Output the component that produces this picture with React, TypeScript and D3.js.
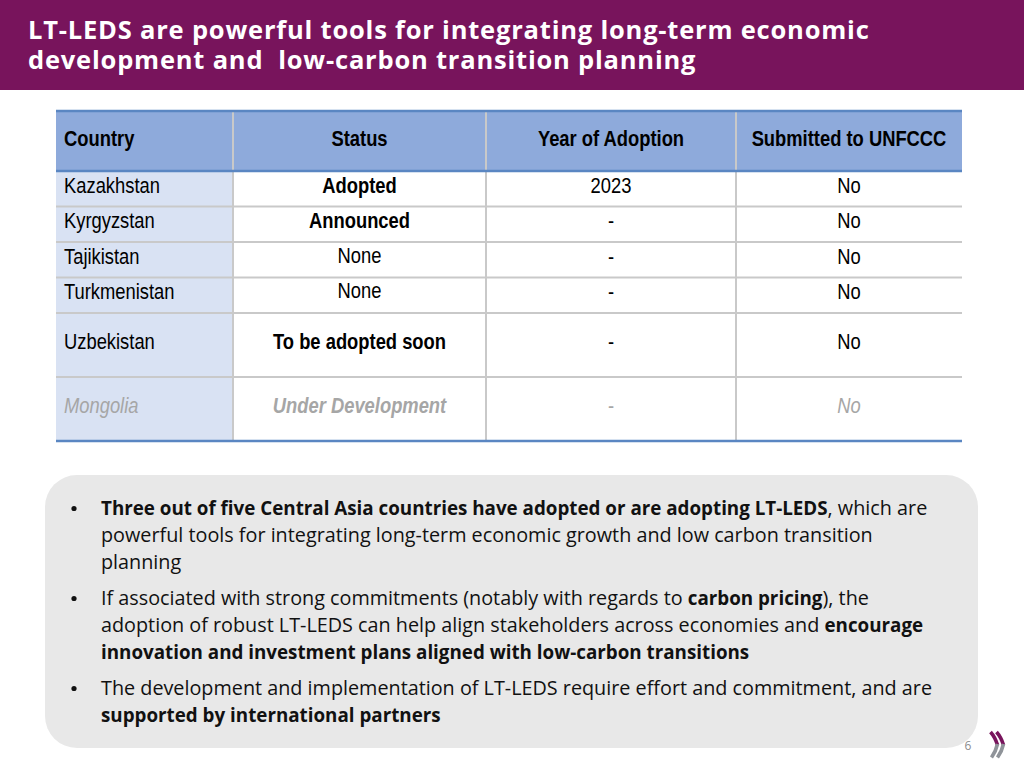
import React from "react";
import * as d3 from "d3";

// ---------- data ----------
const titleLines = [
  "LT-LEDS are powerful tools for integrating long-term economic",
  "development and  low-carbon transition planning",
];
const headers = ["Country", "Status", "Year of Adoption", "Submitted to UNFCCC"];
const countries = ["Kazakhstan", "Kyrgyzstan", "Tajikistan", "Turkmenistan", "Uzbekistan", "Mongolia"];
const statuses = ["Adopted", "Announced", "None", "None", "To be adopted soon", "Under Development"];
const statusBold = [true, true, false, false, true, true];
const years = ["2023", "-", "-", "-", "-", "-"];
const submitted = ["No", "No", "No", "No", "No", "No"];
const greyedRow = [false, false, false, false, false, true];
const rowSpan = [1, 1, 1, 1, 1.8, 1.8];

type Seg = { t: string; b?: boolean };
const bulletLines: Seg[][][] = [
  [
    [{ t: "Three out of five Central Asia countries have adopted or are adopting LT-LEDS", b: true }, { t: ", which are" }],
    [{ t: "powerful tools for integrating long-term economic growth and low carbon transition" }],
    [{ t: "planning" }],
  ],
  [
    [{ t: "If associated with strong commitments (notably with regards to " }, { t: "carbon pricing", b: true }, { t: "), the" }],
    [{ t: "adoption of robust LT-LEDS can help align stakeholders across economies and " }, { t: "encourage", b: true }],
    [{ t: "innovation and investment plans aligned with low-carbon transitions", b: true }],
  ],
  [
    [{ t: "The development and implementation of LT-LEDS require effort and commitment, and are" }],
    [{ t: "supported by international partners", b: true }],
  ],
];
const pageNumber = "6";

// ---------- layout ----------
const W = 1024;
const H = 768;
const colEdges = [56, 233, 486, 736, 962];
const headerTop = 111;
const headerBottom = 171;
const tableBottom = 441;

const cum = [0, ...d3.cumsum(rowSpan)];
const yRow = d3.scaleLinear().domain([0, d3.sum(rowSpan)]).range([headerBottom, tableBottom]);

const tableFont = "'Liberation Sans', Arial, sans-serif";
const bodyFont = "'Open Sans', sans-serif";
const NARROW = 0.835;

function NText(props: {
  x: number;
  y: number;
  anchor?: "start" | "middle";
  bold?: boolean;
  italic?: boolean;
  fill?: string;
  size?: number;
  children: React.ReactNode;
}) {
  const { x, y, anchor = "start", bold, italic, fill = "#000", size = 22, children } = props;
  return (
    <text
      transform={`translate(${x},${y}) scale(${NARROW},1)`}
      textAnchor={anchor}
      fontFamily={tableFont}
      fontWeight={bold ? 700 : 400}
      fontStyle={italic ? "italic" : "normal"}
      fontSize={size}
      fill={fill}
    >
      {children}
    </text>
  );
}

export default function App() {
  const colCenter = (i: number) => (colEdges[i] + colEdges[i + 1]) / 2;
  const grey = "#a6a6a6";

  let bulletY = 515;
  const lineH = 27;
  const paraGap = 9;

  const chevX = [0, 6];

  return (
    <svg
      width={W}
      height={H}
      viewBox={`0 0 ${W} ${H}`}
      style={{ position: "absolute", left: 0, top: 0, display: "block", background: "#fff" }}
    >
      {/* Title bar */}
      <rect x={0} y={0} width={W} height={90} fill="#78145c" />
      <text
        x={28}
        y={38.5}
        fill="#fff"
        fontFamily={bodyFont}
        fontWeight={700}
        fontSize={25.5}
        letterSpacing={0.8}
        style={{ fontVariantLigatures: "none", whiteSpace: "pre" }}
      >
        {titleLines.map((t, i) => (
          <tspan key={i} x={28} dy={i === 0 ? 0 : 30}>
            {t}
          </tspan>
        ))}
      </text>

      {/* Table backgrounds */}
      <rect x={colEdges[0]} y={headerTop} width={colEdges[4] - colEdges[0]} height={headerBottom - headerTop} fill="#8eaadb" />
      <rect x={colEdges[0]} y={headerBottom} width={colEdges[1] - colEdges[0]} height={tableBottom - headerBottom} fill="#d9e2f3" />

      {/* horizontal grid lines between rows */}
      {cum.slice(1, -1).map((c, i) => (
        <line key={"h" + i} x1={colEdges[0]} x2={colEdges[4]} y1={yRow(c)} y2={yRow(c)} stroke="#c9c9c9" strokeWidth={2} />
      ))}
      {/* vertical grid lines */}
      {colEdges.slice(1, -1).map((x, i) => (
        <line key={"v" + i} x1={x} x2={x} y1={headerTop} y2={tableBottom} stroke="#c9c9c9" strokeWidth={2} />
      ))}
      {/* blue rules */}
      {[headerTop, headerBottom, tableBottom].map((y, i) => (
        <line key={"b" + i} x1={colEdges[0]} x2={colEdges[4]} y1={y} y2={y} stroke="#5a86c2" strokeWidth={2.5} />
      ))}

      {/* headers */}
      {headers.map((h, i) => (
        <NText key={h} x={i === 0 ? colEdges[0] + 8 : colCenter(i)} y={146} anchor={i === 0 ? "start" : "middle"} bold>
          {h}
        </NText>
      ))}

      {/* rows */}
      {countries.map((c, r) => {
        const yc = (yRow(cum[r]) + yRow(cum[r + 1])) / 2;
        const base = yc + 4;
        const g = greyedRow[r];
        const fill = g ? grey : "#000";
        return (
          <g key={c}>
            <NText x={colEdges[0] + 8} y={base} fill={fill} italic={g}>
              {c}
            </NText>
            <NText x={colCenter(1)} y={base - (statusBold[r] ? 0 : 1)} anchor="middle" bold={statusBold[r]} italic={g} fill={fill}>
              {statuses[r]}
            </NText>
            <NText x={colCenter(2)} y={base} anchor="middle" fill={fill}>
              {years[r]}
            </NText>
            <NText x={colCenter(3)} y={base} anchor="middle" fill={fill} italic={g}>
              {submitted[r]}
            </NText>
          </g>
        );
      })}

      {/* Summary box */}
      <rect x={45} y={475} width={933} height={273} rx={32} ry={32} fill="#e8e8e8" />
      {bulletLines.map((para, pi) => {
        const startY = bulletY;
        const els = (
          <g key={pi}>
            <circle cx={74} cy={startY - 6.5} r={2.6} fill="#111" />
            {para.map((line, li) => (
              <text
                key={li}
                x={101}
                y={startY + li * lineH}
                fontFamily={bodyFont}
                fill="#111"
                style={{ fontVariantLigatures: "none", whiteSpace: "pre" }}
              >
                {line.map((s, si) => (
                  <tspan key={si} fontWeight={s.b ? 700 : 400} fontSize={s.b ? 18.8 : 19.8}>
                    {s.t}
                  </tspan>
                ))}
              </text>
            ))}
          </g>
        );
        bulletY += para.length * lineH + paraGap;
        return els;
      })}

      {/* page number */}
      <text x={968} y={750} textAnchor="middle" fontFamily={bodyFont} fontSize={12} fill="#8c8c8c">
        {pageNumber}
      </text>

      {/* OECD-style chevrons */}
      <g fill="none" strokeWidth={3.6} strokeLinecap="butt">
        {chevX.map((dx, i) => (
          <g key={i}>
            <path d={`M${990.5 + dx},732 Q${995 + dx},737 ${997.5 + dx},745`} stroke="#78145c" />
            <path d={`M${997.5 + dx},744 Q${996 + dx},751 ${991.5 + dx},757.5`} stroke="#8f9399" />
          </g>
        ))}
      </g>
    </svg>
  );
}
